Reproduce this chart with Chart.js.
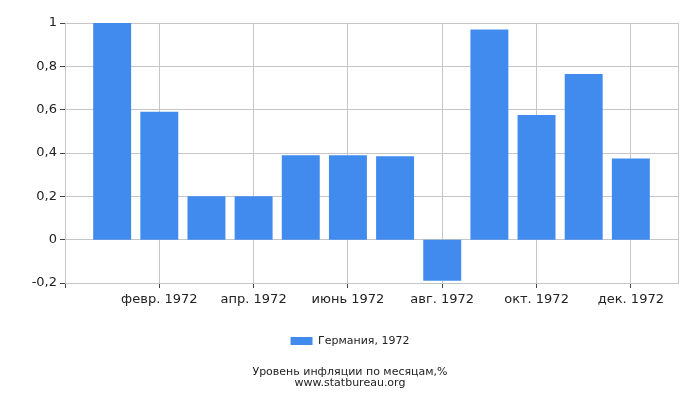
<!DOCTYPE html>
<html>
<head>
<meta charset="utf-8">
<script src="https://cdn.jsdelivr.net/npm/chart.js@4/dist/chart.umd.min.js"></script>
<style>
  html, body { margin: 0; padding: 0; background: #fff; }
  #wrap { width: 700px; height: 400px; }
</style>
</head>
<body>
<div id="wrap"><canvas id="inflationChart" width="700" height="400"></canvas></div>
<script>
const months = ['янв. 1972', 'февр. 1972', 'март 1972', 'апр. 1972', 'май 1972', 'июнь 1972',
                'июль 1972', 'авг. 1972', 'сент. 1972', 'окт. 1972', 'нояб. 1972', 'дек. 1972'];
const germany1972 = [1.0, 0.59, 0.2, 0.2, 0.39, 0.39, 0.385, -0.19, 0.97, 0.575, 0.765, 0.375];
const seriesLabel = 'Германия, 1972';
const titleLines = ['Уровень инфляции по месяцам,%', 'www.statbureau.org'];

document.addEventListener('DOMContentLoaded', function() {
    Chart.defaults.font.family = '"DejaVu Sans", sans-serif';
    Chart.defaults.color = '#222';

    const points = germany1972.map((v, i) => ({ x: i + 1, y: v }));
    const gridColor = '#c6c6c6';

    const ctx = document.getElementById('inflationChart').getContext('2d');
    new Chart(ctx, {
        type: 'bar',
        data: {
            datasets: [{
                label: seriesLabel,
                data: points,
                backgroundColor: '#428bee',
                borderWidth: 0,
                barPercentage: 1,
                categoryPercentage: 0.805
            }]
        },
        options: {
            responsive: false,
            animation: false,
            layout: { padding: { top: 23, right: 0, left: 0, bottom: 11.5 } },
            scales: {
                x: {
                    type: 'linear',
                    min: 0,
                    max: months.length + 1,
                    offset: false,
                    afterFit: s => { s.height = 32.5; },
                    ticks: {
                        stepSize: 2,
                        autoSkip: false,
                        maxRotation: 0,
                        padding: 4,
                        font: { size: 13 },
                        callback: v => (v >= 1 && v <= months.length && v % 2 === 0) ? months[v - 1] : ''
                    },
                    grid: {
                        offset: false,
                        color: gridColor,
                        tickLength: 5,
                        tickColor: c => (c.tick && c.tick.value > months.length) ? 'rgba(0,0,0,0)' : '#444'
                    },
                    border: { color: gridColor }
                },
                y: {
                    min: -0.2,
                    max: 1,
                    afterFit: s => { s.width = 65; },
                    ticks: {
                        stepSize: 0.2,
                        padding: 3,
                        font: { size: 13 },
                        callback: v => String(Number(v.toFixed(1))).replace('.', ',')
                    },
                    grid: { color: gridColor, tickLength: 5, tickColor: '#444' },
                    border: { color: gridColor }
                },
                // empty spacer on the right so legend/title stay centred on the canvas
                spacer: {
                    type: 'linear',
                    position: 'right',
                    afterFit: s => { s.width = 22; },
                    ticks: { display: false },
                    grid: { display: false, drawTicks: false },
                    border: { display: false }
                }
            },
            plugins: {
                legend: {
                    position: 'bottom',
                    labels: {
                        boxWidth: 22,
                        boxHeight: 8,
                        padding: 20,
                        font: { size: 11 }
                    }
                },
                title: {
                    display: true,
                    position: 'bottom',
                    text: titleLines,
                    padding: { top: 10, bottom: 0 },
                    font: { size: 11, weight: 'normal', lineHeight: '11px' },
                    color: '#222'
                },
                tooltip: { enabled: false }
            }
        }
    });
});
</script>
</body>
</html>
